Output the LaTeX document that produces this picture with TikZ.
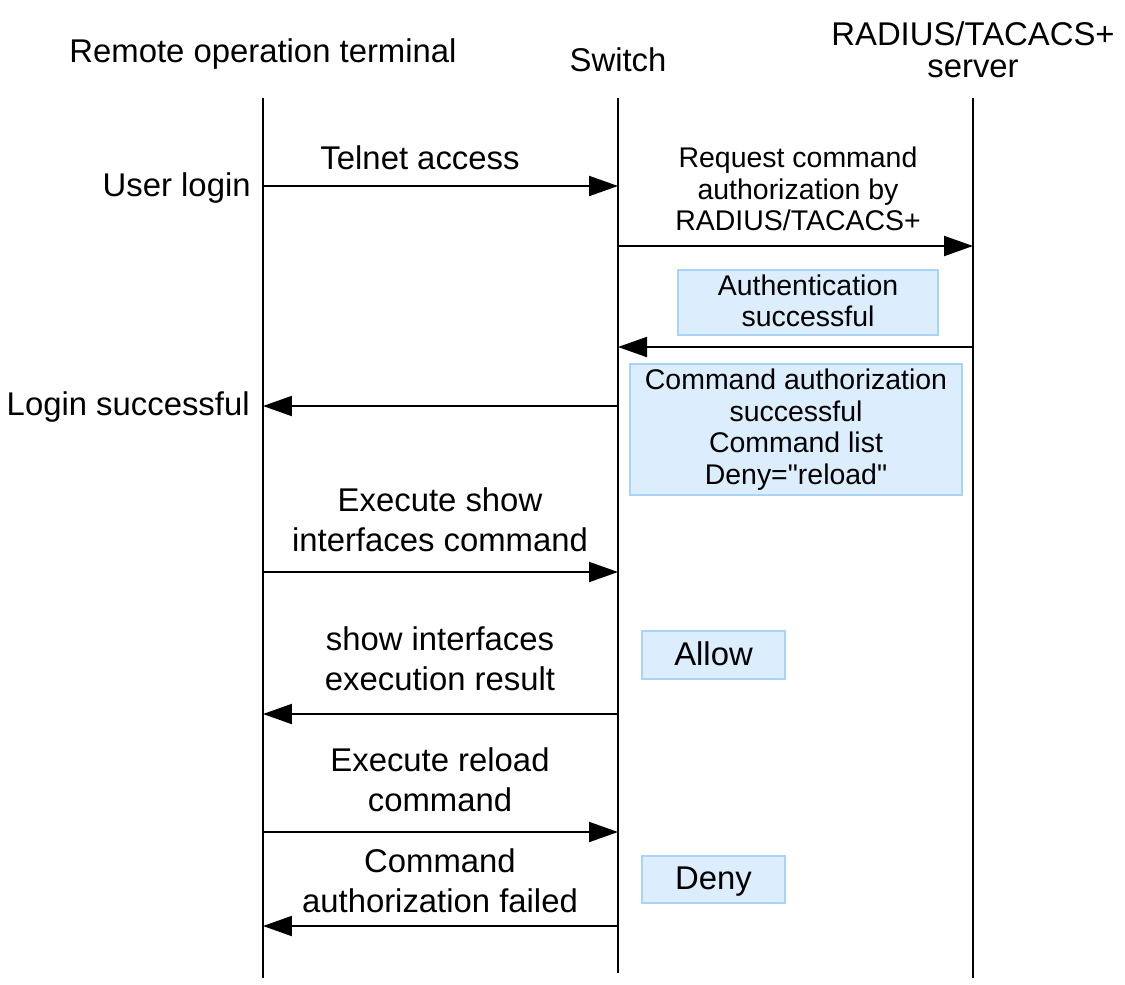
\documentclass[tikz,border=0pt]{standalone}
\usepackage{fontspec}
\setmainfont{Liberation Sans}
\newfontfamily\plainquote{Liberation Sans}[Ligatures=ResetAll]
\usetikzlibrary{arrows.meta}
\definecolor{notefill}{HTML}{DCEDFD}
\definecolor{noteline}{HTML}{A9D3F7}
\tikzset{
  lifeline/.style={line width=1.4pt},
  msg/.style={line width=1.2pt, -{Triangle[length=0.58cm, width=0.4cm]}},
  big/.style={font=\fontsize{18.7}{22.7}\selectfont, align=center, inner sep=0pt},
  small/.style={font=\fontsize{16.2}{17.8}\selectfont, align=center, inner sep=0pt},
  notebox/.style={draw=noteline, fill=notefill, line width=1.1pt, inner sep=0pt}
}
\begin{document}
\begin{tikzpicture}[x=0.02cm, y=-0.02cm]
    \useasboundingbox (0,0) rectangle (1125,984);
    		% headers:
    		\node [big] (term) at (263,54) {Remote operation terminal};
    		\node [big] (sw) at (618,60) {Switch};
    		\node [big, font=\fontsize{18.7}{18.3}\selectfont] (srv) at (973,50) {RADIUS/TACACS+\\server};
     	% lifelines:
     	\coordinate (t0) at (263,98);   \coordinate (t1) at (263,978);
     	\coordinate (s0) at (618,98);   \coordinate (s1) at (618,973);
     	\coordinate (r0) at (973,98);   \coordinate (r1) at (973,978);
     	\draw [lifeline] (t0) -- (t1);
     	\draw [lifeline] (s0) -- (s1);
     	\draw [lifeline] (r0) -- (r1);
    		% login:
    		\coordinate (ta) at (263,186);  \coordinate (sa) at (618,186);
    		\draw [msg] (ta) -- (sa);
    		\node [big] (telnet) at (420,158) {Telnet access};
    		\node [big, anchor=east] (login) at (251,188) {User login};
    		\coordinate (sb) at (618,246);  \coordinate (rb) at (973,246);
    		\draw [msg] (sb) -- (rb);
    		\node [small] (req) at (798,189) {Request command\\authorization by\\RADIUS/TACACS+};
    		\node [notebox, minimum width=5.2cm, minimum height=1.3cm] (auth) at (808,302.5) {};
    		\node [small] at (808,300.5) {Authentication\\successful};
    		\coordinate (rc) at (973,347);  \coordinate (sc) at (618,347);
    		\draw [msg] (rc) -- (sc);
    		\node [notebox, minimum width=6.64cm, minimum height=2.62cm] (cmdbox) at (796,429.5) {};
    		\node [small, font=\fontsize{16.2}{17.9}\selectfont\plainquote] at (cmdbox) {Command authorization\\successful\\Command list\\Deny="reload"};
    		\coordinate (sd) at (618,406);  \coordinate (td) at (263,406);
    		\draw [msg] (sd) -- (td);
    		\node [big, anchor=east] (loginok) at (250,407) {Login successful};
    		% show interfaces:
    		\coordinate (te) at (263,572);  \coordinate (se) at (618,572);
    		\draw [msg] (te) -- (se);
    		\node [big] (show) at (440,520) {Execute show\\interfaces command};
    		\node [notebox, minimum width=2.86cm, minimum height=0.96cm] (allow) at (713.5,655) {};
    		\node [big] at (713.5,654) {Allow};
    		\coordinate (sf) at (618,714);  \coordinate (tf) at (263,714);
    		\draw [msg] (sf) -- (tf);
    		\node [big] (result) at (440,659) {show interfaces\\execution result};
    		% reload:
    		\coordinate (tg) at (263,832);  \coordinate (sg) at (618,832);
    		\draw [msg] (tg) -- (sg);
    		\node [big] (reload) at (440,780) {Execute reload\\command};
    		\node [notebox, minimum width=2.86cm, minimum height=0.94cm] (deny) at (713.5,879.5) {};
    		\node [big] at (713.5,881.5) {Deny};
    		\coordinate (sh) at (618,926);  \coordinate (th) at (263,926);
    		\draw [msg] (sh) -- (th);
    		\node [big] (failed) at (440,881) {Command\\authorization failed};
\end{tikzpicture}
\end{document}
